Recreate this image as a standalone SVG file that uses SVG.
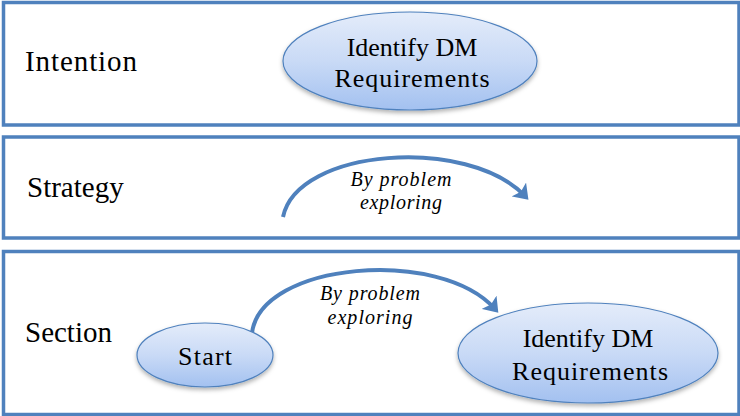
<svg xmlns="http://www.w3.org/2000/svg" width="740" height="416" viewBox="0 0 740 416">
<defs>
<linearGradient id="fillG" x1="0" y1="0" x2="0" y2="1">
<stop offset="0" stop-color="#E4ECFA"/>
<stop offset="0.5" stop-color="#C9DAF6"/>
<stop offset="1" stop-color="#A3C1F0"/>
</linearGradient>
<filter id="shadow" x="-10%" y="-10%" width="120%" height="130%">
<feDropShadow dx="0" dy="2.5" stdDeviation="2" flood-color="#000" flood-opacity="0.3"/>
</filter>
<marker id="arrow" markerUnits="userSpaceOnUse" viewBox="0 0 14 20" markerWidth="14" markerHeight="20" refX="9" refY="10" orient="auto">
<path d="M0,0 L14,10 L0,20 L3,10 z" fill="#4F81BD"/>
</marker>
</defs>
<style>
.panel{fill:#FFFFFF;stroke:#4F81BD;stroke-width:3.5}
.node{fill:url(#fillG);stroke:#4F81BD;stroke-width:1.2;filter:url(#shadow)}
.lbl{font-family:"Liberation Serif","Times New Roman",serif;font-size:29px;fill:#000}
.ntxt{font-family:"Liberation Serif","Times New Roman",serif;font-size:26px;fill:#000;text-anchor:middle}
.etxt{font-family:"Liberation Serif","Times New Roman",serif;font-size:20px;font-style:italic;fill:#000;text-anchor:middle}
.conn{fill:none;stroke:#4F81BD;stroke-width:4;marker-end:url(#arrow)}
</style>
<g id="panels">
<rect class="panel" x="3.5" y="2.5" width="735.5" height="122.5"/>
<rect class="panel" x="3.5" y="137" width="735.5" height="101"/>
<rect class="panel" x="3.5" y="251.5" width="735.5" height="163"/>
</g>
<g id="labels">
<text class="lbl" x="25" y="71" textLength="112">Intention</text>
<text class="lbl" x="27" y="197">Strategy</text>
<text class="lbl" x="25" y="342">Section</text>
</g>
<g id="connectors">
<path class="conn" d="M283,217 C297,148 468,136 525,196"/>
<path class="conn" d="M252,333 C261,262 440,247 495,309"/>
</g>
<g id="edge-labels">
<text class="etxt" x="401" y="186" textLength="101">By problem</text>
<text class="etxt" x="401" y="209" textLength="82">exploring</text>
<text class="etxt" x="370" y="300" textLength="100">By problem</text>
<text class="etxt" x="370" y="324" textLength="85">exploring</text>
</g>
<g id="node-intention">
<ellipse class="node" cx="410" cy="61" rx="127" ry="49"/>
<text class="ntxt" x="412" y="56">Identify DM</text>
<text class="ntxt" x="412" y="87" textLength="155">Requirements</text>
</g>
<g id="node-start">
<ellipse class="node" cx="205" cy="355" rx="68" ry="32"/>
<text class="ntxt" x="205" y="365" textLength="54">Start</text>
</g>
<g id="node-target">
<ellipse class="node" cx="588" cy="353" rx="130" ry="50"/>
<text class="ntxt" x="588" y="347">Identify DM</text>
<text class="ntxt" x="590" y="380" textLength="156">Requirements</text>
</g>
</svg>
